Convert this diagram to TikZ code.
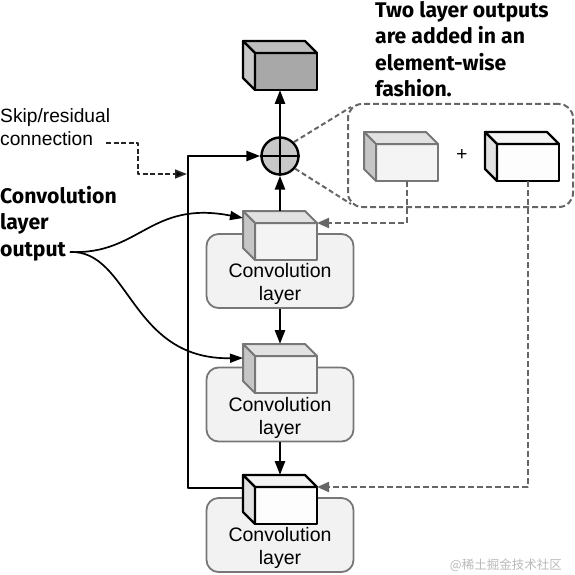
\documentclass[tikz,border=0pt]{standalone}
\usepackage{fontspec}
\setmainfont{Liberation Sans}
\newfontfamily\headfont{Fira Sans}
\newfontfamily\cjkfont{Noto Sans CJK SC}
\usetikzlibrary{calc,arrows.meta}
\definecolor{dgray}{HTML}{666666}
\definecolor{bgray}{HTML}{777777}
\definecolor{boxfill}{HTML}{F2F2F2}
\newcommand\mycube[3]{%
  \node[front#3] (#1) at (#2) {};
  \filldraw[top#3] (#1.north west) -- (#1.north east) -- ($(#1.north east)+(-12,-12)$) -- ($(#1.north west)+(-12,-12)$) -- cycle;
  \filldraw[side#3] (#1.north west) -- (#1.south west) -- ($(#1.south west)+(-12,-12)$) -- ($(#1.north west)+(-12,-12)$) -- cycle;
}
\begin{document}
\begin{tikzpicture}[x=1pt,y=-1pt,
  line join=round,
  frontbase/.style={rectangle, anchor=north west, minimum width=62pt, minimum height=37pt, inner sep=0pt, outer sep=0pt},
  frontD/.style={frontbase, draw=black, line width=2.2pt, fill={rgb,255:red,168;green,168;blue,168}},
  topD/.style={draw=black, line width=2.2pt, fill={rgb,255:red,189;green,189;blue,189}},
  sideD/.style={draw=black, line width=2.2pt, fill={rgb,255:red,200;green,200;blue,200}},
  frontG/.style={frontbase, draw=bgray, line width=2pt, fill={rgb,255:red,244;green,244;blue,244}},
  topG/.style={draw=bgray, line width=2pt, fill={rgb,255:red,226;green,226;blue,226}},
  sideG/.style={draw=bgray, line width=2pt, fill={rgb,255:red,198;green,198;blue,198}},
  frontW/.style={frontbase, draw=black, line width=2.2pt, fill={rgb,255:red,253;green,253;blue,253}},
  topW/.style={draw=black, line width=2.2pt, fill={rgb,255:red,244;green,244;blue,244}},
  sideW/.style={draw=black, line width=2.2pt, fill={rgb,255:red,226;green,226;blue,226}},
  layerbox/.style={rectangle, rounded corners=12pt, draw=bgray, line width=1.8pt, fill=boxfill, minimum width=147pt, minimum height=74pt},
  layertext/.style={font=\fontsize{19.5}{23.5}\selectfont, align=center, inner sep=0pt},
  bigtext/.style={font=\headfont\bfseries\fontsize{21.2}{26.5}\selectfont, align=left, inner sep=0pt},
  arr/.style={line width=2.6pt, -{Triangle[length=14pt,width=10pt]}},
  carr/.style={line width=1.7pt, -{Triangle[length=13pt,width=9pt]}},
  dsh/.style={draw=dgray, line width=2pt, dash pattern=on 6pt off 3pt},
  darr/.style={dsh, -{Triangle[length=12pt,width=10pt,fill=dgray]}},
  karr/.style={draw=black!85, line width=1.7pt, dash pattern=on 5pt off 2.5pt, -{Triangle[length=12pt,width=9pt,fill=black]}}
]
\useasboundingbox (0,0) rectangle (575,575);

% layer boxes
\node[layerbox] (b1) at (280,271) {};
\node[layerbox] (b2) at (280,404.5) {};
\node[layerbox] (b3) at (280,535) {};
\node[layertext] (t1) at (280,284) {Convolution\\layer};
\node[layertext] (t2) at (280,418) {Convolution\\layer};
\node[layertext] (t3) at (280,548) {Convolution\\layer};

% cubes
\mycube{ct}{255,53}{D}
\mycube{c1}{255,223}{G}
\mycube{c2}{255,356}{G}
\mycube{c3}{255,487}{W}
\mycube{cA}{376,144}{G}
\mycube{cB}{497,144}{W}
\node[font=\fontsize{19}{20}\selectfont, inner sep=0pt] (plus) at (462,155) {+};

% sum circle
\node[circle, draw=black, line width=2.4pt, fill={rgb,255:red,200;green,200;blue,200}, minimum size=37pt, inner sep=0pt] (circ) at (280,156) {};
\draw[line width=2.4pt] (circ.north) -- (circ.south) (circ.west) -- (circ.east);

% main arrows
\draw[arr] (circ.north) -- (circ.north |- ct.south);
\draw[arr] ($(c1.north)+(-6,-12)$) -- (circ.south);
\draw[arr] (b1.south) -- ($(c2.north)+(-6,-12)$);
\draw[arr] (b2.south) -- ($(c3.north)+(-6,-12)$);

% skip connection
\coordinate (sk) at (188,156);
\draw[arr] ($(c3.north west)+(-12,1)$) -| (sk) -- (circ.west);

% zoom box
\node[dsh, rectangle, rounded corners=14pt, minimum width=225pt, minimum height=103pt, inner sep=0pt] (zbox) at (460.5,155.5) {};
\draw[dsh, dash pattern=on 5pt off 3pt] (circ.45) -- ($(zbox.north west)+(4,4)$);
\draw[dsh, dash pattern=on 5pt off 3pt] (circ.-40) -- ($(zbox.south west)+(4,-4)$);
\draw[darr] (cA.south) |- (c1.north east);
\draw[darr] (cB.south) |- (c3.north east);

% labels
\node[font=\fontsize{19.2}{23}\selectfont, align=left, inner sep=0pt, anchor=north west] (skl) at (0,108) {Skip/residual\\connection};
\coordinate (skst) at (106,143);
\coordinate (skin) at (187,174);
\draw[karr] (skst) -| (138,174) -- (skin);

\node[bigtext, anchor=north west] (cl) at (0,186) {Convolution\\layer\\output};
\coordinate (ost) at (70,252);
\draw[carr] (ost) .. controls (140,255) and (150,200) .. ($(c1.north west)+(-12,-5)$);
\draw[carr] (ost) .. controls (130,250) and (130,360) .. ($(c2.north west)+(-12,2)$);

\node[bigtext, anchor=north west] (head) at (375,1) {Two layer outputs\\are added in an\\element-wise\\fashion.};

\node[text=gray!55, font=\cjkfont\fontsize{12.5}{14}\selectfont, inner sep=0pt, anchor=east] (wm) at (562,565) {@稀土掘金技术社区};
\end{tikzpicture}
\end{document}
